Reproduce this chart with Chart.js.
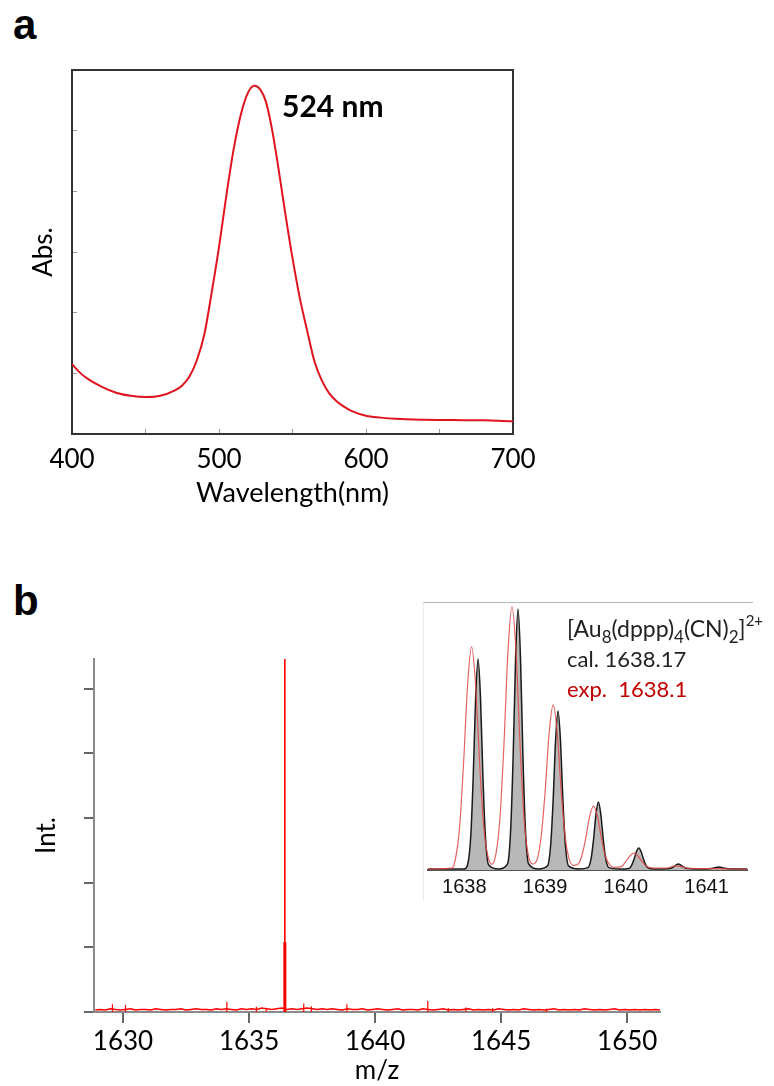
<!DOCTYPE html>
<html><head><meta charset="utf-8">
<script src="https://cdn.jsdelivr.net/npm/chart.js@4.4.1/dist/chart.umd.min.js"></script>
<style>
html,body{margin:0;padding:0;background:#fff;}
body{width:774px;height:1086px;position:relative;overflow:hidden;font-family:Lato,sans-serif;}
canvas{position:absolute;display:block;}
.lbl{position:absolute;white-space:nowrap;line-height:1;}
.pl{font-weight:bold;font-size:42px;font-family:'Liberation Sans Narrow','Liberation Sans',Arial,sans-serif;color:#000;}
.it{font-family:Lato,sans-serif;font-size:22px;color:#222;}
.sb{font-size:17px;position:relative;top:6px;line-height:0;}
.sp{font-size:15px;position:relative;top:-11px;line-height:0;}
</style></head><body>
<div class="lbl pl" style="left:13px;top:4px;">a</div>
<canvas id="cA" width="560" height="480" style="left:0;top:40px;width:560px;height:480px"></canvas>
<div class="lbl" style="left:282px;top:90px;font-weight:bold;font-size:30px;font-family:Lato,sans-serif;color:#000;">524 nm</div>

<div class="lbl pl" style="left:13px;top:580px;">b</div>
<canvas id="cB" width="774" height="486" style="left:0;top:600px;width:774px;height:486px"></canvas>
<div style="position:absolute;left:423px;top:602px;width:329px;height:298px;background:#fff;border-top:1px solid #b4b4b4;border-left:1px solid #ececec;">
  <canvas id="cI" width="329" height="297" style="left:0;top:0;width:329px;height:297px"></canvas>
</div>
<div class="lbl it" style="left:567px;top:617px;font-size:23px;">[Au<span class="sb">8</span>(dppp)<span class="sb">4</span>(CN)<span class="sb">2</span>]<span class="sp">2+</span></div>
<div class="lbl it" style="left:567px;top:648px;">cal. 1638.17</div>
<div class="lbl it" style="left:567px;top:678px;color:#c00000;">exp.&nbsp; 1638.1</div>

<script>
// ---------- Panel a : UV-vis ----------
const waveNm = [400,405,410,420,430,440,450,460,470,475,480,485,490,495,500,505,510,515,520,524,528,532,536,540,545,550,555,560,565,570,575,580,585,590,600,610,620,640,660,680,700];
const absVal = [1.15,1.02,0.92,0.78,0.68,0.63,0.61,0.63,0.72,0.80,0.95,1.22,1.64,2.33,3.08,3.93,4.70,5.28,5.64,5.74,5.68,5.47,5.03,4.45,3.65,2.90,2.24,1.70,1.19,0.88,0.67,0.54,0.45,0.38,0.30,0.27,0.25,0.235,0.23,0.225,0.21];
const waveTickLabels = [400,500,600,700];

// ---------- Panel b : mass spectrum ----------
const msMz = [1628.9,1629.1,1629.3,1629.5,1629.7,1629.9,1630.1,1630.3,1630.5,1630.7,
1630.9,1631.1,1631.3,1631.5,1631.7,1631.9,1632.1,1632.3,1632.5,1632.7,
1632.9,1633.1,1633.3,1633.5,1633.7,1633.9,1634.1,1634.3,1634.5,1634.7,
1634.9,1635.1,1635.3,1635.5,1635.7,1635.9,1636.1,1636.3,1636.5,1636.7,
1636.9,1637.1,1637.3,1637.5,1637.7,1637.9,1638.1,1638.3,1638.5,1638.7,
1638.9,1639.1,1639.3,1639.5,1639.7,1639.9,1640.1,1640.3,1640.5,1640.7,
1640.9,1641.1,1641.3,1641.5,1641.7,1641.9,1642.1,1642.3,1642.5,1642.7,
1642.9,1643.1,1643.3,1643.5,1643.7,1643.9,1644.1,1644.3,1644.5,1644.7,
1644.9,1645.1,1645.3,1645.5,1645.7,1645.9,1646.1,1646.3,1646.5,1646.7,
1646.9,1647.1,1647.3,1647.5,1647.7,1647.9,1648.1,1648.3,1648.5,1648.7,
1648.9,1649.1,1649.3,1649.5,1649.7,1649.9,1650.1,1650.3,1650.5,1650.7,
1650.9,1651.1,1651.3];
const msInt = [0.03,0.04,0.03,0.05,0.04,0.03,0.04,0.05,0.03,0.04,
0.04,0.03,0.05,0.04,0.03,0.04,0.04,0.05,0.03,0.04,
0.05,0.04,0.04,0.03,0.05,0.04,0.05,0.04,0.03,0.05,
0.04,0.05,0.04,0.06,0.05,0.04,0.05,0.06,0.04,0.05,
0.04,0.05,0.06,0.05,0.04,0.05,0.04,0.05,0.04,0.03,
0.05,0.04,0.04,0.05,0.03,0.04,0.05,0.04,0.03,0.04,
0.05,0.03,0.04,0.04,0.03,0.05,0.04,0.03,0.04,0.05,
0.03,0.04,0.03,0.04,0.05,0.03,0.04,0.03,0.04,0.03,
0.05,0.04,0.03,0.04,0.03,0.05,0.04,0.03,0.04,0.03,
0.04,0.05,0.03,0.04,0.03,0.04,0.03,0.05,0.04,0.03,
0.04,0.03,0.04,0.05,0.03,0.04,0.03,0.04,0.03,0.04,
0.03,0.04,0.03];
const spikeMz  = [1629.58,1630.10,1634.12,1635.29,1635.68,1637.17,1637.47,1638.88,1642.09,1642.90,1643.60,1644.66,1646.80];
const spikeInt = [0.12,0.11,0.16,0.08,0.06,0.13,0.09,0.12,0.17,0.06,0.07,0.06,0.05];
const mainPeakMz = [1636.42];
const mainPeakInt = [5.46];
const mainPeakFootInt = [1.08];

// ---------- Inset : isotope pattern ----------
const calMz = [1637.55,1638.00,1638.04,1638.08,1638.11,1638.14,1638.17,1638.20,1638.23,1638.26,1638.30,1638.42,
1638.535,1638.575,1638.605,1638.635,1638.665,1638.695,1638.725,1638.755,1638.795,1638.92,
1639.03,1639.07,1639.10,1639.13,1639.16,1639.19,1639.22,1639.25,1639.29,1639.42,
1639.53,1639.57,1639.60,1639.63,1639.66,1639.69,1639.72,1639.75,1639.79,1639.92,
1640.04,1640.07,1640.10,1640.13,1640.16,1640.19,1640.22,1640.25,1640.29,1640.45,
1640.56,1640.59,1640.62,1640.65,1640.68,1640.71,1640.74,1640.90,
1641.06,1641.12,1641.15,1641.18,1641.24,1641.50];
const calInt = [0.4,0.4,2.0,13.3,36,66.3,81.2,66.3,36,13.3,2.0,0.4,
2.4,16.4,44.4,81.9,100.4,81.9,44.4,16.4,2.4,0.4,
1.6,10.1,27.2,50,61.2,50,27.2,10.1,1.6,0.4,
0.9,4.5,11.8,21.4,26.2,21.4,11.8,4.5,0.9,0.4,
0.6,1.7,4.0,7.0,8.5,7.0,4.0,1.7,0.6,0.4,
0.7,1.2,1.9,2.3,1.9,1.2,0.7,0.4,
0.6,1.0,1.2,1.0,0.6,0.4];
const expMz = [1637.55,1637.75,1637.85,1637.89,1637.94,1637.99,1638.04,1638.09,1638.14,1638.19,1638.24,1638.29,1638.34,
1638.39,1638.44,1638.49,1638.54,1638.59,1638.64,1638.69,1638.74,1638.79,1638.845,
1638.90,1638.95,1639.00,1639.05,1639.10,1639.15,1639.20,1639.25,1639.30,1639.35,
1639.40,1639.45,1639.50,1639.55,1639.60,1639.65,1639.70,1639.75,1639.80,1639.85,
1639.95,1640.00,1640.05,1640.10,1640.15,1640.20,1640.25,1640.35,
1640.50,1640.58,1640.62,1640.68,1640.78,1641.10,1641.50];
const expInt = [0.4,0.5,0.8,4.3,16,40.8,71,85.8,71,40.8,16.5,5.5,2.2,
6,19.5,48,84,101.2,84,48,19.5,6,2.3,
4,12.5,30,52.7,63.5,52.7,30,12.5,4,1.8,
2,5,11.7,20.4,24.6,20.4,11.7,5,2,1.0,
1.4,3.3,5.4,6.5,5.4,3.3,1.5,0.7,
0.7,1.4,1.6,1.3,0.6,0.5,0.3];
const insetTicks = [1638,1639,1640,1641];

const pts = (xs, ys) => xs.map((x, i) => ({x: x, y: ys[i]}));
// vertical sticks: each stick goes from 0 up to its value, separated by a gap
const sticks = (xs, ys) => xs.flatMap((x, i) => [{x: x, y: 0}, {x: x, y: ys[i]}, {x: x, y: null}]);
const common = {responsive:false, animation:false, devicePixelRatio:1,
  plugins:{legend:{display:false}, tooltip:{enabled:false}}};
const frameAxis = (pos, color, w) => ({type:'linear', position:pos, display:true,
  ticks:{display:false}, grid:{display:false}, border:{display:true, color:color, width:w},
  afterFit(s){ if (pos === 'top' || pos === 'bottom') s.height = 0; else s.width = 0; }});

// Panel a chart
new Chart(document.getElementById('cA'), {
  type:'line',
  data:{datasets:[{data:pts(waveNm, absVal), borderColor:'#e0141e', borderWidth:2,
    pointRadius:0, cubicInterpolationMode:'monotone', fill:false}]},
  options:Object.assign({}, common, {
    layout:{padding:{top:30, right:47, bottom:0, left:0}},
    scales:{
      x:{type:'linear', position:'bottom', min:400, max:700,
        ticks:{stepSize:50, autoSkip:false, includeBounds:false, maxRotation:0, padding:15,
          color:'#000', font:{family:'Lato', size:26},
          callback:(v) => waveTickLabels.includes(v) ? String(v) : ''},
        grid:{display:true, drawOnChartArea:false, drawTicks:true, tickLength:-5, color:'#9a9a9a', lineWidth:1},
        border:{display:true, color:'#333', width:2},
        title:{display:true, text:'Wavelength(nm)', color:'#000', font:{family:'Lato', size:27}, padding:{top:0, bottom:11}},
        afterFit(s){ s.height = 86; }},
      y:{type:'linear', position:'left', min:0, max:6,
        ticks:{display:false, stepSize:1},
        grid:{display:true, drawOnChartArea:false, drawTicks:true, tickLength:-5, color:'#9a9a9a', lineWidth:1},
        border:{display:true, color:'#333', width:2},
        title:{display:true, text:'Abs.', color:'#000', font:{family:'Lato', size:26}, padding:{top:28, bottom:0}},
        afterFit(s){ s.width = 72; }},
      x2:frameAxis('top', '#333', 2),
      y2:frameAxis('right', '#333', 2)
    }
  })
});

// Panel b main chart
new Chart(document.getElementById('cB'), {
  type:'line',
  data:{datasets:[
    {data:pts(msMz, msInt), borderColor:'#ff0000', borderWidth:1.5, pointRadius:0, tension:0, fill:false, order:3},
    {data:sticks(spikeMz, spikeInt), borderColor:'#ff0000', borderWidth:1.2, pointRadius:0, spanGaps:false, fill:false, order:2},
    {data:sticks(mainPeakMz, mainPeakInt), borderColor:'#ff0000', borderWidth:1.6, pointRadius:0, spanGaps:false, fill:false, order:1},
    {data:sticks(mainPeakMz, mainPeakFootInt), borderColor:'#ff0000', borderWidth:3, pointRadius:0, spanGaps:false, fill:false, order:0}
  ]},
  options:Object.assign({}, common, {
    layout:{padding:{top:59, right:114, bottom:0, left:0}},
    scales:{
      x:{type:'linear', position:'bottom', min:1628.85, max:1651.3,
        ticks:{stepSize:5, autoSkip:false, includeBounds:false, maxRotation:0, padding:3,
          color:'#000', font:{family:'Lato', size:26}, callback:(v) => String(v)},
        grid:{display:true, drawOnChartArea:false, drawTicks:true, tickLength:11,
          color:'#666', lineWidth:2},
        border:{display:true, color:'#8a8a8a', width:2},
        title:{display:true, text:'m/z', color:'#000', font:{family:'Lato', size:26}, padding:{top:0, bottom:0}},
        afterFit(s){ s.height = 74; }},
      y:{type:'linear', position:'left', min:0, max:5.46,
        ticks:{display:false, stepSize:1, includeBounds:false},
        grid:{display:true, drawOnChartArea:false, drawTicks:true, tickLength:10, color:'#666', lineWidth:2},
        border:{display:true, color:'#8a8a8a', width:2},
        title:{display:true, text:'Int.', color:'#000', font:{family:'Lato', size:26}, padding:{top:31, bottom:0}},
        afterFit(s){ s.width = 94; }}
    }
  })
});

// Inset chart
new Chart(document.getElementById('cI'), {
  type:'line',
  data:{datasets:[
    {data:pts(expMz, expInt), borderColor:'rgba(226,70,70,0.85)', borderWidth:1.2, pointRadius:0,
      cubicInterpolationMode:'monotone', fill:false, order:0},
    {data:pts(calMz, calInt), borderColor:'#1a1a1a', borderWidth:1.5, pointRadius:0,
      cubicInterpolationMode:'monotone', fill:'origin', backgroundColor:'#b8b8b8', order:1}
  ]},
  options:Object.assign({}, common, {
    layout:{padding:{top:0, right:6, bottom:0, left:4}},
    scales:{
      x:{type:'linear', position:'bottom', min:1637.55, max:1641.5,
        ticks:{stepSize:1, autoSkip:false, includeBounds:false, maxRotation:0, padding:5, color:'#111',
          font:{family:"'Liberation Sans Narrow', 'Liberation Sans', Arial, sans-serif", size:20},
          callback:(v) => insetTicks.includes(v) ? String(v) : ''},
        grid:{display:false, drawTicks:false},
        border:{display:true, color:'#555', width:2},
        afterFit(s){ s.height = 30; }},
      y:{type:'linear', display:false, min:0, max:102.7}
    }
  })
});
</script>
</body></html>
